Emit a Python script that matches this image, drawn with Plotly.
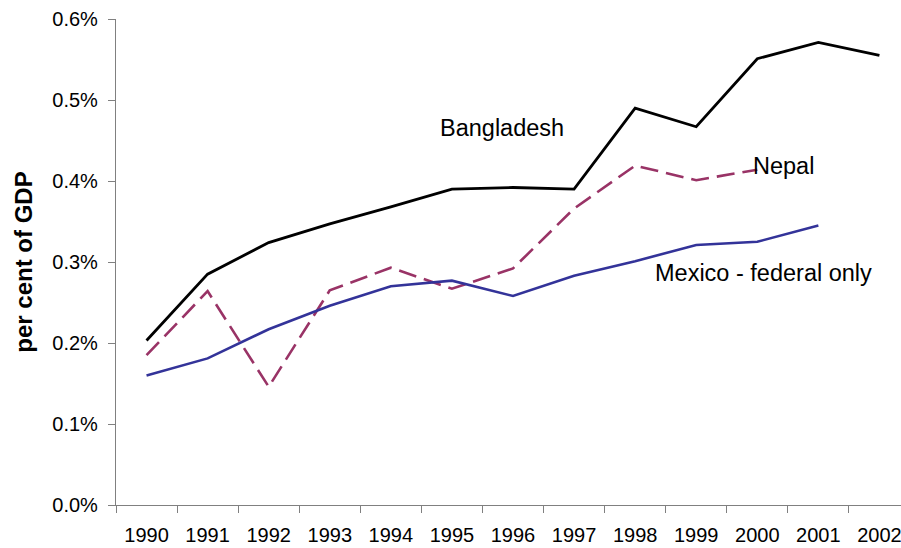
import plotly.graph_objects as go

years = ["1990", "1991", "1992", "1993", "1994", "1995", "1996",
         "1997", "1998", "1999", "2000", "2001", "2002"]
bangladesh = [0.00203, 0.00285, 0.00324, 0.00347, 0.00368, 0.00390, 0.00392,
              0.00390, 0.00490, 0.00467, 0.00551, 0.00571, 0.00555]
nepal = [0.00185, 0.00264, 0.00146, 0.00265, 0.00293, 0.00267, 0.00292,
         0.00366, 0.00419, 0.00401, 0.00414]
mexico = [0.00160, 0.00181, 0.00217, 0.00246, 0.00270, 0.00277, 0.00258,
          0.00283, 0.00301, 0.00321, 0.00325, 0.00345]
y_ticks = [0.0, 0.001, 0.002, 0.003, 0.004, 0.005, 0.006]

FONT = "Liberation Sans, Arial, sans-serif"

fig = go.Figure()
fig.add_trace(go.Scatter(x=years, y=bangladesh, mode="lines", name="Bangladesh",
                         line=dict(color="#000000", width=2.8)))
fig.add_trace(go.Scatter(x=years[:len(nepal)], y=nepal, mode="lines", name="Nepal",
                         line=dict(color="#993366", width=2.6, dash="18px,8px")))
fig.add_trace(go.Scatter(x=years[:len(mexico)], y=mexico, mode="lines",
                         name="Mexico - federal only",
                         line=dict(color="#333399", width=2.6)))

ann_font = dict(family=FONT, size=23.5, color="#000000")
fig.add_annotation(x=4.78, y=0.00466, xref="x", yref="y", text="Bangladesh",
                   showarrow=False, xanchor="left", yanchor="middle", font=ann_font)
fig.add_annotation(x=9.89, y=0.00418, xref="x", yref="y", text="Nepal",
                   showarrow=False, xanchor="left", yanchor="middle", font=ann_font)
fig.add_annotation(x=8.29, y=0.00287, xref="x", yref="y", text="Mexico - federal only",
                   showarrow=False, xanchor="left", yanchor="middle", font=ann_font)

fig.update_layout(
    width=901, height=548,
    margin=dict(l=116, r=0, t=19, b=43, pad=0),
    paper_bgcolor="white", plot_bgcolor="white",
    showlegend=False,
    font=dict(family=FONT, size=20, color="#000000"),
)
fig.update_xaxes(
    type="category", range=[-0.5, 12.353], automargin=False,
    showline=True, linecolor="#808080", linewidth=1.2,
    ticks="outside", tickson="boundaries", ticklen=7, tickcolor="#808080",
    showgrid=False, zeroline=False,
    tickfont=dict(family=FONT, size=20, color="#000000"),
    ticklabelstandoff=12,
)
fig.update_yaxes(
    range=[0, 0.006], tickvals=y_ticks, tickformat=".1%", automargin=False,
    showline=True, linecolor="#808080", linewidth=1.2,
    ticks="outside", ticklen=7, tickcolor="#808080",
    showgrid=False, zeroline=False,
    tickfont=dict(family=FONT, size=20, color="#000000"),
    ticklabelstandoff=6,
    title=dict(text="<b>per cent of GDP</b>", standoff=12,
               font=dict(family=FONT, size=24, color="#000000")),
)

fig.write_html("out.html", config={"displayModeBar": False},
               post_script="document.body.style.margin='0';document.body.style.overflow='hidden';")
